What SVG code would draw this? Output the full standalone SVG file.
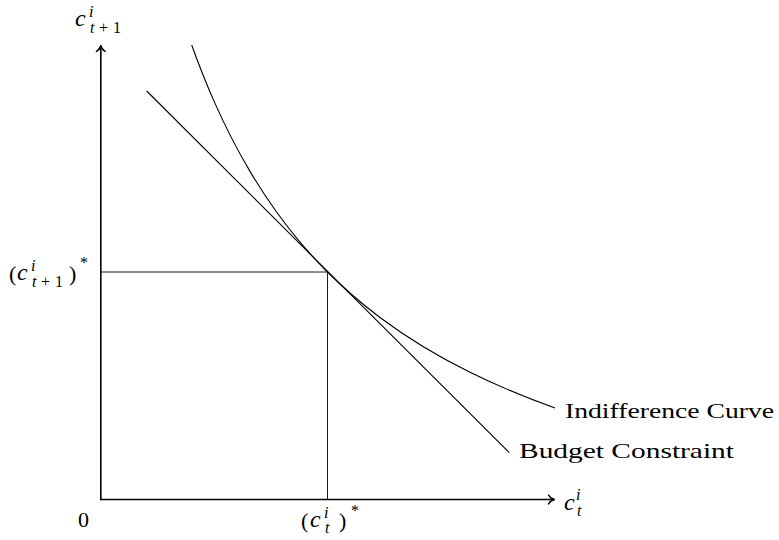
<svg xmlns="http://www.w3.org/2000/svg" width="779" height="540" viewBox="0 0 779 540">
<style>
.ax{stroke:#000;stroke-width:1.6;fill:none}
.ln{stroke:#000;stroke-width:1.1;fill:none}
.thin{stroke:#000;stroke-width:0.9;fill:none}
.t{font-family:"Liberation Serif","Times New Roman",serif;font-size:22px;fill:#000}
.m{font-family:"Liberation Serif","Times New Roman",serif;font-size:24px;font-style:italic;fill:#000}
.s{font-family:"Liberation Serif","Times New Roman",serif;font-size:16px;fill:#000}
.si{font-family:"Liberation Serif","Times New Roman",serif;font-size:16px;font-style:italic;fill:#000}
</style>
<defs>
<marker id="arr" markerUnits="userSpaceOnUse" markerWidth="14" markerHeight="14" viewBox="-8 -7 10 14" refX="0" refY="0" orient="auto" overflow="visible">
<path d="M-6,-4.5 C-4.5,-1.8 -1.8,-0.4 0,0 C-1.8,0.4 -4.5,1.8 -6,4.5" fill="none" stroke="#000" stroke-width="1.4" stroke-linecap="round"/>
</marker>
</defs>
<g id="connectors">
<line id="x-axis" class="ax" x1="100" y1="499.5" x2="554.5" y2="499.5" marker-end="url(#arr)"/>
<line id="y-axis" class="ax" x1="100.8" y1="500.3" x2="100.8" y2="45.5" marker-end="url(#arr)"/>
<line id="h-guide" class="thin" x1="100.8" y1="272" x2="327.5" y2="272"/>
<line id="v-guide" class="thin" x1="327.5" y1="272" x2="327.5" y2="499.5"/>
<line id="budget" class="ln" x1="146.7" y1="91" x2="509.3" y2="452.7"/>
<path id="indifference" class="ln" d="M191.7,45 C199.47,66.7 207.23,85.95 215,103.4 C226.67,129.62 238.33,151.76 250,171.4 C266.67,199.46 283.33,222.35 300,242.1 C309.17,252.96 318.33,262.83 327.5,272 C345,289.5 362.5,304.33 380,317.44 C410,339.92 440,357.4 470,372.24 C498.33,386.26 526.67,397.88 555,408"/>
</g>
<g id="label-y-axis">
<text class="m" x="75" y="26">c</text>
<text class="si" x="89" y="17">i</text>
<text class="si" x="90" y="33">t</text>
<text class="s" x="99" y="33">+</text>
<text class="s" x="113" y="33">1</text>
</g>
<g id="label-x-axis">
<text class="m" x="564" y="510">c</text>
<text class="si" x="576" y="500">i</text>
<text class="si" x="577" y="516">t</text>
</g>
<g id="label-origin">
<text class="t" x="78" y="527">0</text>
</g>
<g id="label-y-star">
<text class="t" x="9" y="281">(</text>
<text class="m" x="17" y="280">c</text>
<text class="si" x="31" y="271">i</text>
<text class="si" x="32" y="287">t</text>
<text class="s" x="41" y="287">+</text>
<text class="s" x="55" y="287">1</text>
<text class="t" x="69" y="281">)</text>
<text class="s" x="80" y="268">*</text>
</g>
<g id="label-x-star">
<text class="t" x="301" y="528">(</text>
<text class="m" x="310" y="527">c</text>
<text class="si" x="324" y="518">i</text>
<text class="si" x="325" y="533">t</text>
<text class="t" x="339" y="528">)</text>
<text class="s" x="351" y="516">*</text>
</g>
<g id="label-indifference">
<text class="t" x="565" y="418" textLength="209" lengthAdjust="spacingAndGlyphs">Indifference Curve</text>
</g>
<g id="label-budget">
<text class="t" x="519" y="458" textLength="215" lengthAdjust="spacingAndGlyphs">Budget Constraint</text>
</g>
</svg>
